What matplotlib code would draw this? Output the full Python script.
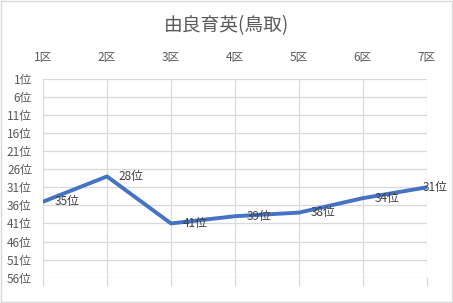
import matplotlib
matplotlib.use('Agg')
import matplotlib.pyplot as plt
from matplotlib.patches import Rectangle

plt.rcParams['font.family'] = ['Noto Sans CJK JP', 'DejaVu Sans']

title = '由良育英(鳥取)'
sections = ['1区', '2区', '3区', '4区', '5区', '6区', '7区']
ranks = [35, 28, 41, 39, 38, 34, 31]
y_ticks = list(range(1, 57, 5))

text_color = '#595959'
grid_color = '#d9d9d9'

fig = plt.figure(figsize=(4.53, 3.03), dpi=100)
ax = fig.add_axes([0.0949, 0.0835, 0.8477, 0.6565])

x = list(range(len(sections)))
ax.plot(x, ranks, color='#4472C4', linewidth=2.8, solid_capstyle='round', zorder=3)

for xi, r in zip(x, ranks):
    # last label is pushed left so it fits inside the chart, like Excel does
    dx = 8.5 if xi < len(x) - 1 else -3
    ax.annotate(f'{r}位', (xi, r), xytext=(dx, 0), textcoords='offset points',
                ha='left', va='center', fontsize=8.5, color='#404040', zorder=4)

ax.set_xlim(0, len(sections) - 1)
ax.set_ylim(56, 1)
ax.set_yticks(y_ticks)
ax.set_yticklabels([f'{v}位' for v in y_ticks])
ax.set_xticks(x)
ax.set_xticklabels(sections)
ax.xaxis.tick_top()

ax.grid(True, color=grid_color, linewidth=0.9)
ax.set_axisbelow(True)
for s in ax.spines.values():
    s.set_visible(False)
ax.tick_params(axis='y', length=0, pad=8, labelsize=8.5, labelcolor=text_color)
ax.tick_params(axis='x', length=0, pad=11, labelsize=8.5, labelcolor=text_color)

# short tick marks below the last gridline
for xi in x:
    ax.plot([xi, xi], [56, 58], color=grid_color, linewidth=0.9, clip_on=False, zorder=1)

fig.text(0.5, 0.917, title, ha='center', va='center', fontsize=13.5, color=text_color)

fig.patches.append(Rectangle((0.002, 0.003), 0.995, 0.994, transform=fig.transFigure,
                             fill=False, edgecolor=grid_color, linewidth=1.0))

plt.savefig('out.png', dpi=100)
